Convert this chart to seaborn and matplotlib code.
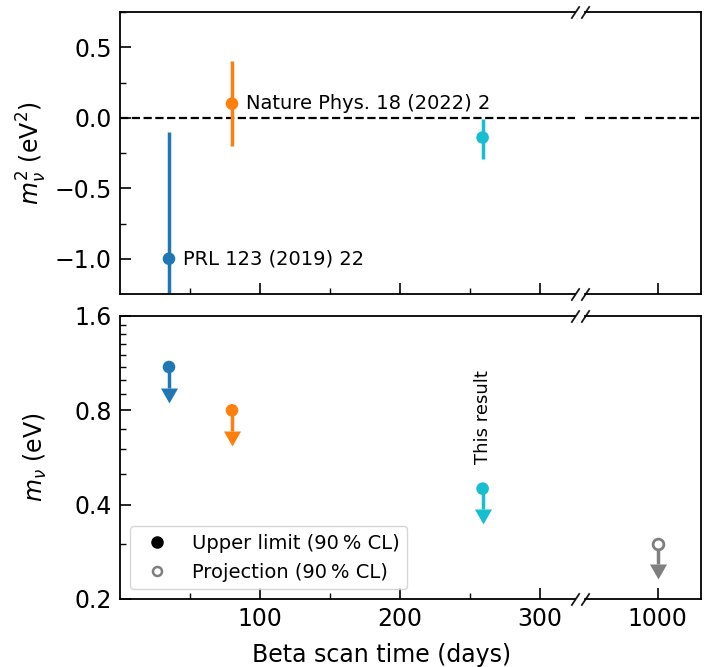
import matplotlib
matplotlib.use("Agg")
import matplotlib.pyplot as plt
from matplotlib.lines import Line2D
from matplotlib.ticker import FixedLocator, FixedFormatter, NullFormatter, NullLocator
import seaborn as sns

# KATRIN measurement campaigns
labels = ["KNM1", "KNM1-2", "KNM1-5"]
scan_days = [35, 80, 259]
m2_central = [-1.0, 0.1, -0.14]
m2_err_up = [0.9, 0.3, 0.13]
m2_err_down = [1.1, 0.3, 0.15]
m_upper_limit = [1.1, 0.8, 0.45]
colors = ["#1f77b4", "#ff7f0e", "#17becf"]
references = ["PRL 123 (2019) 22", "Nature Phys. 18 (2022) 2", None]

# final sensitivity projection
proj_days = [1000]
proj_limit = [0.3]
proj_color = "#7f7f7f"

# axis ticks
m2_major = [-1.0, -0.5, 0.0, 0.5]
m2_minor = [-0.75, -0.25, 0.25, 0.75]
m_major = [0.2, 0.4, 0.8, 1.6]
m_major_labels = ["0.2", "0.4", "0.8", "1.6"]
m_minor = [0.3, 0.5, 0.6, 0.7, 0.9, 1.0, 1.1, 1.2, 1.3, 1.4, 1.5]
days_major_left = [100, 200, 300]
days_minor_left = [50, 150, 250]
days_major_right = [1000]

sns.set_theme(style="ticks")
plt.rcParams.update({
    "font.family": ["DejaVu Sans"],
    "mathtext.fontset": "dejavusans",
    "axes.edgecolor": "black",
    "axes.linewidth": 1.3,
    "xtick.color": "black",
    "ytick.color": "black",
    "text.color": "black",
    "axes.labelcolor": "black",
})

BIG = 17
SMALL = 14

W, H = 706, 667
fig = plt.figure(figsize=(W / 100, H / 100), dpi=100)


def rect(x0, x1, y0, y1):
    return [x0 / W, 1 - y1 / H, (x1 - x0) / W, (y1 - y0) / H]


ax_tl = fig.add_axes(rect(120, 575, 12, 294))
ax_tr = fig.add_axes(rect(585, 701, 12, 294), sharey=ax_tl)
ax_bl = fig.add_axes(rect(120, 575, 316, 599), sharex=ax_tl)
ax_br = fig.add_axes(rect(585, 701, 316, 599), sharex=ax_tr, sharey=ax_bl)

palette = dict(zip(labels, colors))
ELW = 2.5
MS = 82

# downward arrow head with its flat base on the anchor point
ARROW_HEAD = [(-1, 0), (0, -1.75), (1, 0)]
ARROW = 0.14


def upper_limit(ax, d, m, col):
    tail = m * (1 - ARROW)
    ax.vlines(d, tail, m, color=col, lw=ELW, zorder=2)
    ax.plot([d], [tail], ls="none", marker=ARROW_HEAD, ms=21.5, color=col,
            mfc=col, mec=col, mew=0, zorder=2)


# ---- top: squared neutrino mass with uncertainties ----
for ax in (ax_tl, ax_tr):
    ax.axhline(0.0, color="black", ls="--", lw=1.6, zorder=1)

for d, c, lo, hi, col in zip(scan_days, m2_central, m2_err_down, m2_err_up, colors):
    ax_tl.errorbar([d], [c], yerr=[[lo], [hi]], fmt="none", ecolor=col,
                   elinewidth=ELW, capsize=0, zorder=2)
sns.scatterplot(x=scan_days, y=m2_central, hue=labels, palette=palette, s=MS,
                linewidth=0, legend=False, ax=ax_tl, zorder=3)

for d, c, ref in zip(scan_days, m2_central, references):
    if ref:
        ax_tl.text(d + 10, c, ref, ha="left", va="center", fontsize=SMALL)

ax_tl.set_ylim(-1.25, 0.75)
ax_tl.yaxis.set_major_locator(FixedLocator(m2_major))
ax_tl.yaxis.set_minor_locator(FixedLocator(m2_minor))
ax_tl.set_ylabel(r"$m_\nu^2$ (eV$^2$)", fontsize=BIG)

# ---- bottom: upper limits on the neutrino mass ----
for d, m, col in zip(scan_days, m_upper_limit, colors):
    upper_limit(ax_bl, d, m, col)
sns.scatterplot(x=scan_days, y=m_upper_limit, hue=labels, palette=palette, s=MS,
                linewidth=0, legend=False, ax=ax_bl, zorder=3)

for d, m in zip(proj_days, proj_limit):
    upper_limit(ax_br, d, m, proj_color)
sns.scatterplot(x=proj_days, y=proj_limit, s=60, color="white",
                edgecolor=proj_color, linewidth=2, legend=False, ax=ax_br, zorder=3)

ax_bl.text(scan_days[2], m_upper_limit[2] * 1.2, "This result", rotation=90,
           ha="center", va="bottom", fontsize=13)

ax_bl.set_yscale("log")
ax_bl.set_ylim(0.2, 1.6)
ax_bl.yaxis.set_major_locator(FixedLocator(m_major))
ax_bl.yaxis.set_major_formatter(FixedFormatter(m_major_labels))
ax_bl.yaxis.set_minor_locator(FixedLocator(m_minor))
ax_bl.yaxis.set_minor_formatter(NullFormatter())
ax_bl.set_ylabel(r"$m_\nu$ (eV)", fontsize=BIG)

handles = [
    Line2D([], [], ls="none", marker="o", color="black", ms=8),
    Line2D([], [], ls="none", marker="o", mfc="white", mec=proj_color, mew=1.8, ms=6.5),
]
ax_bl.legend(handles, ["Upper limit (90\u2009% CL)", "Projection (90\u2009% CL)"],
             loc="lower left", fontsize=SMALL, frameon=True)

# ---- x axes ----
ax_tl.set_xlim(0, 325)
ax_tr.set_xlim(950, 1030)
ax_tl.xaxis.set_major_locator(FixedLocator(days_major_left))
ax_tl.xaxis.set_minor_locator(FixedLocator(days_minor_left))
ax_tr.xaxis.set_major_locator(FixedLocator(days_major_right))
ax_tr.xaxis.set_minor_locator(NullLocator())

for ax in (ax_tl, ax_tr, ax_bl, ax_br):
    ax.tick_params(which="both", direction="in", labelsize=BIG)
    ax.tick_params(which="major", length=8, width=1.2)
    ax.tick_params(which="minor", length=4.5, width=1.0)
    ax.tick_params(axis="x", pad=6)
    ax.tick_params(axis="y", pad=6)
    ax.set_xlabel("")

for ax in (ax_tl, ax_tr):
    ax.tick_params(labelbottom=False)
for ax in (ax_tr, ax_br):
    ax.tick_params(axis="y", which="both", left=False, labelleft=False)
    ax.set_ylabel("")
    ax.spines["left"].set_visible(False)
for ax in (ax_tl, ax_bl):
    ax.spines["right"].set_visible(False)
    ax.yaxis.set_label_coords(-0.156, 0.5)

# break marks
brk = dict(marker=[(-1, -1.5), (1, 1.5)], markersize=9, linestyle="none",
           color="k", mec="k", mew=1.3, clip_on=False)
for ax in (ax_tl, ax_bl):
    ax.plot([1, 1], [0, 1], transform=ax.transAxes, **brk)
for ax in (ax_tr, ax_br):
    ax.plot([0, 0], [0, 1], transform=ax.transAxes, **brk)

fig.text(382 / W, 1 - 662 / H, "Beta scan time (days)", ha="center",
         va="baseline", fontsize=BIG)

fig.savefig("out.png", dpi=100)
